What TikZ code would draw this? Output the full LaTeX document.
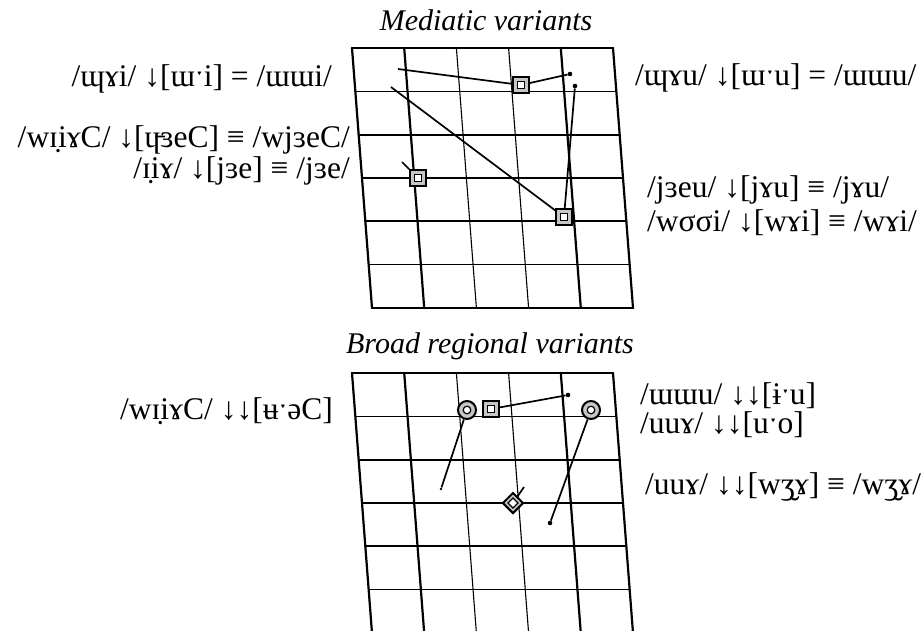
\documentclass[tikz,border=0pt]{standalone}
\usepackage{fontspec}
\setmainfont{Liberation Serif}
\usetikzlibrary{shapes.geometric}
\pgfdeclarelayer{bg}
\pgfsetlayers{bg,main}
\tikzset{
 thickg/.style={line width=2.2pt, line cap=round},
 thing/.style={line width=1.1pt, line cap=round},
 dl/.style={line width=1.7pt},
 mk/.style={draw, line width=2pt, fill=gray!45, inner sep=0pt},
 sqm/.style={mk, rectangle, minimum size=15.5pt,
   path picture={\draw[line width=1.2pt, fill=white] (path picture bounding box.center) ++(-3.2,-3.2) rectangle ++(6.4,6.4);}},
 cim/.style={mk, circle, minimum size=18pt,
   path picture={\draw[line width=1.2pt, fill=white] (path picture bounding box.center) circle[radius=3.8];}},
 dim/.style={mk, diamond, shape aspect=1, minimum width=21pt, minimum height=21pt,
   path picture={\draw[line width=1.2pt, fill=white] (path picture bounding box.center) +(0,-5) -- +(5,0) -- +(0,5) -- +(-5,0) -- cycle;}},
 dot/.style={circle, fill, inner sep=0pt, minimum size=4.6pt},
 lab/.style={font=\fontsize{31.5}{36}\selectfont, inner sep=0pt},
 ttl/.style={font=\fontsize{30}{36}\selectfont\itshape, inner sep=0pt},
}
\begin{document}
\begin{tikzpicture}[x=1pt,y=-1pt]
\useasboundingbox (0,0) rectangle (923,630);
% titles
\node[ttl, anchor=base] (t1) at (486,30) {Mediatic variants};
\node[ttl, anchor=base] (t2) at (490,353) {Broad regional variants};
% labels top
\node[lab, anchor=base east] (l1) at (332,86) {/ɰɤi/ ↓[ɯˑi] = /ɯɯi/};
\node[lab, anchor=base west] (l2) at (635,85) {/ɰɤu/ ↓[ɯˑu] = /ɯɯu/};
\node[lab, anchor=base east] (l3) at (350,147) {/wɪ̣iɤC/ ↓[ɥ̵ɜeC] ≡ /wjɜeC/};
\node[lab, anchor=base east] (l4) at (350,178) {/ɪ̣iɤ/ ↓[jɜe] ≡ /jɜe/};
\node[lab, anchor=base west] (l5) at (647,197) {/jɜeu/ ↓[jɤu] ≡ /jɤu/};
\node[lab, anchor=base west] (l6) at (647,231) {/wσσi/ ↓[wɤi] ≡ /wɤi/};
% labels bottom
\node[lab, anchor=base east] (l7) at (333,419) {/wɪ̣iɤC/ ↓↓[ʉˑəC]};
\node[lab, anchor=base west] (l8) at (640,404) {/ɯɯu/ ↓↓[ɨˑu]};
\node[lab, anchor=base west] (l9) at (640,433) {/uuɤ/ ↓↓[uˑo]};
\node[lab, anchor=base west] (l10) at (645,494) {/uuɤ/ ↓↓[wʒ̮ɤ] ≡ /wʒ̮ɤ/};
% markers top
\node[sqm] (s1) at (521,85) {};
\node[sqm] (s2) at (418,178) {};
\node[sqm] (s3) at (564,217) {};
\node[dot] (d1) at (570,74) {};
\node[dot] (d2) at (575,86) {};
\coordinate (a1) at (398,69);
\coordinate (a2) at (391,87);
\coordinate (a3) at (402,162);
% markers bottom
\node[cim] (c1) at (467,410) {};
\node[sqm] (s4) at (491,409) {};
\node[cim] (c2) at (591,410) {};
\node[dim] (dm) at (513,503) {};
\node[dot] (d3) at (568,395) {};
\node[dot] (d4) at (550,523) {};
\node[dot, minimum size=2.8pt] (d5) at (441,489) {};
\coordinate (a4) at (524,487);
\begin{pgfonlayer}{bg}
\foreach \t in {48,373}{
  \foreach \i/\s in {0/thickg,1/thickg,2/thing,3/thing,4/thickg,5/thickg}{
    \draw[\s] (352+52.2*\i,\t) -- (372+52.2*\i,\t+260);
  }
  \foreach \j/\s in {0/thickg,1/thing,2/thickg,3/thing,4/thickg,5/thing,6/thickg}{
    \draw[\s] (352+3.3333*\j,\t+43.3333*\j) -- (613+3.3333*\j,\t+43.3333*\j);
  }
}
\draw[dl] (a1) -- (s1);
\draw[dl] (s1) -- (d1);
\draw[dl] (a2) -- (s3);
\draw[dl] (a3) -- (s2);
\draw[dl] (d2) -- (s3);
\draw[dl] (s4) -- (d3);
\draw[dl] (c1) -- (d5);
\draw[dl] (c2) -- (d4);
\draw[dl] (dm) -- (a4);
\end{pgfonlayer}
\end{tikzpicture}
\end{document}
